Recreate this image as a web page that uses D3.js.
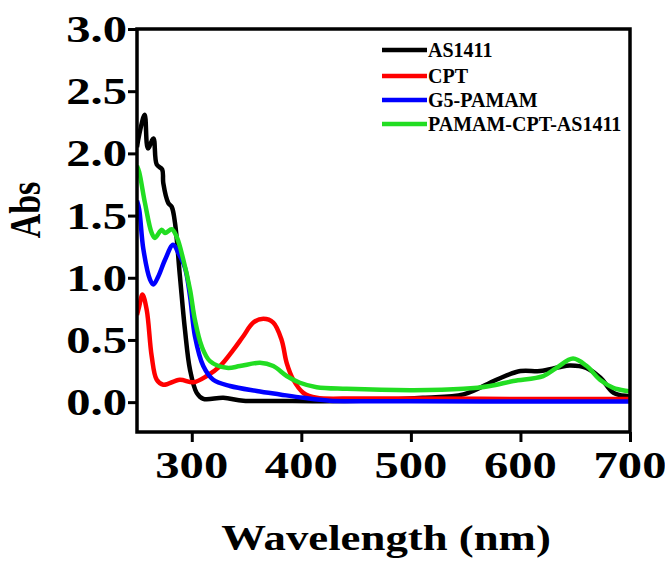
<!DOCTYPE html>
<html>
<head>
<meta charset="utf-8">
<script src="https://cdn.jsdelivr.net/npm/d3@7/dist/d3.min.js"></script>
<style>
  body { margin: 0; background: #fff; }
  text { font-family: "Liberation Serif", "Times New Roman", serif; font-weight: bold; fill: #000; }
</style>
</head>
<body>
<div id="chart"></div>
<script>
// --- data (wavelength in nm, absorbance)
var seriesNames = ['AS1411', 'CPT', 'G5-PAMAM', 'PAMAM-CPT-AS1411'];
var seriesColors = ['#000000', '#ff0000', '#0000ff', '#22dd22'];

var as1411X = [250, 252, 257, 260, 265, 268, 273, 274, 278.6, 281.7, 284.7, 289.2, 293.8, 298.4, 304.5, 310.5, 328.8, 347, 380, 420, 470, 511, 548, 578, 600, 618, 635, 645, 660, 673, 685, 698, 700];
var as1411Y = [2.05, 2.15, 2.31, 2.04, 2.12, 1.91, 1.87, 1.76, 1.60, 1.57, 1.44, 1.01, 0.58, 0.26, 0.075, 0.027, 0.035, 0.012, 0.01, 0.008, 0.015, 0.035, 0.062, 0.18, 0.25, 0.25, 0.28, 0.295, 0.276, 0.196, 0.075, 0.048, 0.045];

var cptX = [250, 252, 255, 258.9, 263.4, 268, 274, 289, 301.4, 313.6, 325.8, 337.9, 347, 356.2, 365.3, 374.4, 382, 386.6, 392.7, 401.8, 414, 450, 500, 600, 700];
var cptY = [0.70, 0.77, 0.865, 0.74, 0.37, 0.18, 0.14, 0.18, 0.16, 0.21, 0.29, 0.42, 0.53, 0.64, 0.67, 0.64, 0.50, 0.316, 0.18, 0.075, 0.035, 0.03, 0.03, 0.025, 0.025];

var pamamX = [250, 252, 255.8, 261.9, 264.9, 269.4, 275.6, 283, 287.7, 293.8, 298.4, 302.9, 310.5, 319.6, 334.9, 359.3, 380.5, 401.8, 426, 500, 600, 700];
var pamamY = [1.62, 1.55, 1.23, 0.985, 0.945, 1.01, 1.145, 1.265, 1.2, 1.08, 0.85, 0.53, 0.29, 0.18, 0.13, 0.09, 0.062, 0.035, 0.012, 0.008, 0.005, 0.005];

var conjX = [250, 252, 257.3, 263.4, 266.4, 272.5, 275.6, 281.7, 286.2, 292.3, 298.4, 302.9, 309, 316.6, 331.9, 344, 362.3, 374.4, 386.6, 398.7, 414, 441.4, 502.6, 548, 572.2, 593.5, 620.8, 633, 648, 660.5, 672.6, 684.7, 698.4, 700];
var conjY = [1.90, 1.85, 1.60, 1.36, 1.32, 1.386, 1.36, 1.39, 1.33, 1.145, 0.905, 0.66, 0.45, 0.33, 0.276, 0.29, 0.316, 0.29, 0.21, 0.156, 0.12, 0.107, 0.096, 0.107, 0.13, 0.17, 0.21, 0.276, 0.35, 0.29, 0.18, 0.115, 0.088, 0.085];

var xTicks = [300, 400, 500, 600, 700];
var yTicks = [0.0, 0.5, 1.0, 1.5, 2.0, 2.5, 3.0];

var seriesX = [as1411X, cptX, pamamX, conjX];
var seriesY = [as1411Y, cptY, pamamY, conjY];

//--- SIZES
var W = 665, H = 563;
var margin = { top: 29, right: 35, bottom: 131, left: 137 };
var width = W - margin.left - margin.right;
var height = H - margin.top - margin.bottom;
var stretch = 1.28;

var svg = d3.select('#chart').append('svg')
  .attr('width', W)
  .attr('height', H);

var g = svg.append('g')
  .attr('transform', 'translate(' + margin.left + ',' + margin.top + ')');

//--- SCALES
var scaleX = d3.scaleLinear().domain([250, 700]).range([0, width]);
var scaleY = d3.scaleLinear().domain([-0.24, 3.0]).range([height, 0]);

g.append('clipPath').attr('id', 'clip')
  .append('rect').attr('width', width).attr('height', height);

//--- LINES
var lineFunc = d3.line()
  .x(function(d) { return scaleX(d[0]); })
  .y(function(d) { return scaleY(d[1]); })
  .curve(d3.curveCatmullRom.alpha(0.5));

seriesNames.forEach(function(name, i) {
  var pts = seriesX[i].map(function(x, j) { return [x, seriesY[i][j]]; });
  g.append('path')
    .datum(pts)
    .attr('clip-path', 'url(#clip)')
    .attr('d', lineFunc)
    .attr('fill', 'none')
    .attr('stroke', seriesColors[i])
    .attr('stroke-width', 4.5)
    .attr('stroke-linejoin', 'round');
});

//--- FRAME
g.append('rect')
  .attr('width', width)
  .attr('height', height)
  .attr('fill', 'none')
  .attr('stroke', '#000')
  .attr('stroke-width', 3.5);

//--- AXES
var axisX = g.append('g')
  .attr('transform', 'translate(0,' + height + ')')
  .call(d3.axisBottom(scaleX).tickValues(xTicks).tickSize(10).tickFormat(''));
var axisY = g.append('g')
  .call(d3.axisLeft(scaleY).tickValues(yTicks).tickSize(9).tickFormat(''));

[axisX, axisY].forEach(function(ax) {
  ax.select('.domain').remove();
  ax.selectAll('line').attr('stroke', '#000').attr('stroke-width', 3);
});

// stretched tick labels
xTicks.forEach(function(t) {
  g.append('text')
    .attr('transform', 'translate(' + scaleX(t) + ',' + (height + 46) + ') scale(' + stretch + ',1)')
    .attr('text-anchor', 'middle')
    .style('font-size', '38px')
    .text(t);
});
yTicks.forEach(function(t) {
  g.append('text')
    .attr('transform', 'translate(-10,' + (scaleY(t) + 13) + ') scale(' + stretch + ',1)')
    .attr('text-anchor', 'end')
    .style('font-size', '38px')
    .text(t.toFixed(1));
});

//--- AXIS TITLES
svg.append('text')
  .attr('transform', 'translate(386,550) scale(' + stretch + ',1)')
  .attr('text-anchor', 'middle')
  .style('font-size', '35px')
  .text('Wavelength (nm)');

svg.append('text')
  .attr('transform', 'translate(40,210) rotate(-90) scale(1,' + stretch + ')')
  .attr('text-anchor', 'middle')
  .style('font-size', '34px')
  .text('Abs');

//--- LEGEND
var legendY = [50, 76, 100, 124];
var legend = svg.append('g');
seriesNames.forEach(function(name, i) {
  legend.append('line')
    .attr('x1', 382).attr('x2', 427)
    .attr('y1', legendY[i]).attr('y2', legendY[i])
    .attr('stroke', seriesColors[i])
    .attr('stroke-width', 4.5);
  legend.append('text')
    .attr('x', 428)
    .attr('y', legendY[i] + 7)
    .style('font-size', '20px')
    .text(name);
});
</script>
</body>
</html>
